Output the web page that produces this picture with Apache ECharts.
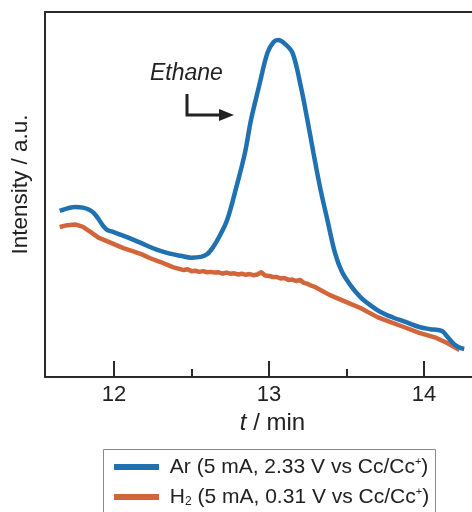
<!DOCTYPE html>
<html>
<head>
<meta charset="utf-8">
<script src="https://cdn.jsdelivr.net/npm/echarts@6/dist/echarts.min.js"></script>
<style>
html,body{margin:0;padding:0;background:#fff;}
#chart{width:472px;height:512px;}
</style>
</head>
<body>
<div id="chart"></div>
<script>
// Ar series (time in min, intensity a.u.)
var arTime = [11.65, 11.70, 11.75, 11.80, 11.84, 11.87, 11.90, 11.93, 11.955, 11.99, 12.08, 12.18, 12.28, 12.36, 12.43, 12.50, 12.56, 12.60, 12.64, 12.68, 12.73, 12.79, 12.845, 12.884, 12.935, 12.99, 13.03, 13.06, 13.10, 13.152, 13.206, 13.248, 13.287, 13.329, 13.377, 13.426, 13.47, 13.53, 13.59, 13.65, 13.72, 13.80, 13.88, 13.97, 14.04, 14.09, 14.12, 14.15, 14.18, 14.21, 14.24, 14.26];
var arValue = [45.5, 46.2, 46.6, 46.4, 45.8, 44.9, 43.3, 41.4, 40.3, 39.8, 38.4, 36.6, 34.8, 33.8, 33.2, 32.7, 32.9, 33.6, 35.6, 38.5, 43.0, 52.1, 61.4, 70.4, 79.5, 88.8, 91.8, 92.3, 91.4, 88.8, 79.5, 70.4, 61.4, 52.1, 43.0, 34.0, 28.9, 24.9, 21.9, 19.8, 17.8, 16.3, 15.1, 13.7, 13.1, 12.9, 12.5, 11.1, 9.6, 8.5, 7.9, 7.7];
// H2 series
var h2Time = [11.65, 11.70, 11.75, 11.80, 11.85, 11.90, 11.95, 12.00, 12.06, 12.12, 12.18, 12.23, 12.30, 12.38, 12.45, 12.475, 12.50, 12.525, 12.55, 12.575, 12.60, 12.625, 12.65, 12.675, 12.70, 12.725, 12.75, 12.775, 12.80, 12.825, 12.85, 12.875, 12.90, 12.925, 12.95, 12.975, 13.00, 13.025, 13.05, 13.075, 13.10, 13.125, 13.15, 13.175, 13.20, 13.225, 13.25, 13.275, 13.30, 13.39, 13.50, 13.59, 13.70, 13.78, 13.87, 13.97, 14.08, 14.15, 14.23];
var h2Value = [41.1, 41.6, 41.8, 41.1, 39.7, 38.2, 37.3, 36.4, 35.3, 34.5, 33.6, 32.6, 31.5, 30.1, 29.3, 29.5, 29.0, 29.1, 28.8, 29.0, 28.7, 28.8, 28.6, 28.7, 28.3, 28.6, 28.3, 28.4, 28.1, 28.3, 28.0, 28.2, 27.9, 28.1, 28.7, 27.8, 27.7, 27.4, 27.4, 27.0, 27.1, 26.6, 26.7, 26.3, 26.6, 25.8, 25.5, 25.0, 24.6, 22.5, 20.5, 18.9, 16.4, 15.1, 13.7, 12.1, 10.7, 9.3, 7.4];
var majorTicks = [12, 13, 14];
var minorTicks = [12.5, 13.5];
var seriesNames = ['Ar', 'H2'];

function zip(a, b) { return a.map(function (v, i) { return [v, b[i]]; }); }

var chart = echarts.init(document.getElementById('chart'), null, {renderer: 'canvas'});
var AX = '#2a2a2a';
var FONT = 'Liberation Sans, Arial, Helvetica, sans-serif';
var xMin = 11.555, xMax = 14.31;

var legendRich = {
  a: {fontSize: 21, fontFamily: FONT, color: '#222'},
  sup: {fontSize: 11, fontFamily: FONT, color: '#222', padding: [0, 0, 10, 0]},
  sub: {fontSize: 12, fontFamily: FONT, color: '#222', padding: [10, 0, 0, 0]}
};

chart.setOption({
  animation: false,
  backgroundColor: '#fff',
  grid: {left: 45, right: 0, top: 12, bottom: 135, containLabel: false},
  xAxis: [
    {
      type: 'value', min: xMin, max: xMax, position: 'bottom',
      axisLine: {show: true, lineStyle: {color: AX, width: 2}},
      axisTick: {show: true, inside: true, length: 16, customValues: majorTicks, lineStyle: {color: AX, width: 2}},
      axisLabel: {show: true, customValues: majorTicks, fontSize: 22, color: '#222', fontFamily: FONT, margin: 7},
      splitLine: {show: false},
      name: '{i|t} / min',
      nameLocation: 'middle', nameGap: 31,
      nameTextStyle: {fontSize: 24, color: '#222', fontFamily: FONT, padding: [0, 0, 0, 28],
        rich: {i: {fontSize: 24, fontStyle: 'italic', fontFamily: FONT, color: '#222'}}}
    },
    {
      type: 'value', min: xMin, max: xMax, position: 'bottom',
      axisLine: {show: false},
      axisTick: {show: true, inside: true, length: 8, customValues: minorTicks, lineStyle: {color: AX, width: 2}},
      axisLabel: {show: false},
      splitLine: {show: false}
    },
    {
      type: 'value', min: xMin, max: xMax, position: 'top',
      axisLine: {show: true, lineStyle: {color: AX, width: 2}},
      axisTick: {show: false}, axisLabel: {show: false}, splitLine: {show: false}
    }
  ],
  yAxis: {
    type: 'value', min: 0, max: 100,
    axisLine: {show: true, lineStyle: {color: AX, width: 2}},
    axisTick: {show: false}, axisLabel: {show: false}, splitLine: {show: false},
    name: 'Intensity / a.u.', nameLocation: 'middle', nameGap: 13,
    nameTextStyle: {fontSize: 22.5, color: '#222', fontFamily: FONT, padding: [0, 0, 0, 20]}
  },
  legend: {
    orient: 'vertical', left: 103, top: 449,
    padding: [7, 10, 0, 11],
    icon: 'rect', itemWidth: 45, itemHeight: 6, itemGap: 8,
    data: seriesNames,
    formatter: function (name) {
      if (name === 'Ar') return '{a| Ar (5 mA, 2.33 V vs Cc/Cc}{sup|+}{a|)}';
      return '{a| H}{sub|2}{a| (5 mA, 0.31 V vs Cc/Cc}{sup|+}{a|)}';
    },
    textStyle: {fontSize: 21, fontFamily: FONT, color: '#222', lineHeight: 22, rich: legendRich}
  },
  series: [
    {
      name: 'Ar', type: 'line', xAxisIndex: 0, data: zip(arTime, arValue),
      smooth: 0.35, showSymbol: false, symbol: 'none',
      lineStyle: {color: '#2071b1', width: 4.5}, itemStyle: {color: '#2071b1'}, z: 3
    },
    {
      name: 'H2', type: 'line', xAxisIndex: 0, data: zip(h2Time, h2Value),
      smooth: false, showSymbol: false, symbol: 'none',
      lineStyle: {color: '#d3653a', width: 4.5, join: 'round'}, itemStyle: {color: '#d3653a'}, z: 2
    }
  ],
  graphic: [
    {type: 'rect', shape: {x: 103.5, y: 449.5, width: 332, height: 80}, style: {fill: null, stroke: '#8a8a8a', lineWidth: 1}, z: 0},
    {type: 'text', left: 150, top: 62, style: {text: 'Ethane', fontSize: 23, fontStyle: 'italic', fontFamily: FONT, fill: '#222'}},
    {type: 'polyline', shape: {points: [[187, 94], [187, 115], [224, 115]]}, style: {stroke: '#222', lineWidth: 3, fill: null}},
    {type: 'polygon', shape: {points: [[219, 109], [234, 115], [219, 121]]}, style: {fill: '#222'}}
  ]
});
</script>
</body>
</html>
